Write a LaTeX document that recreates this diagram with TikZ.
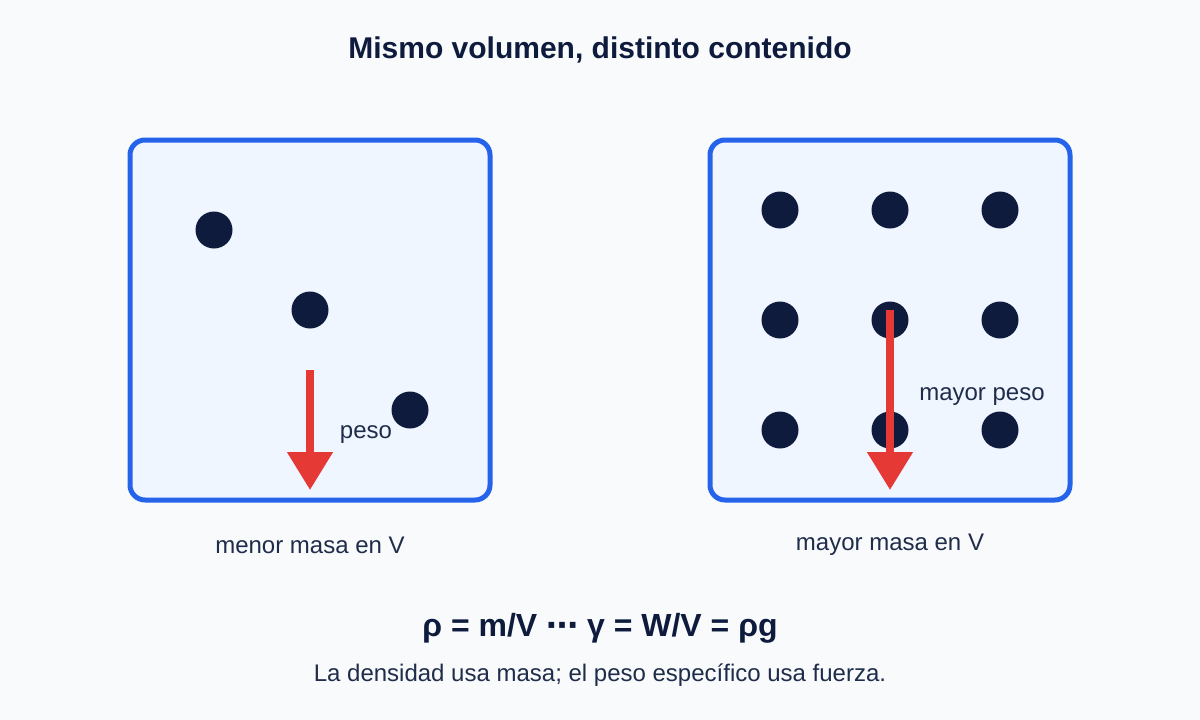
\documentclass[tikz,border=0pt]{standalone}
\usepackage{fontspec}
\setmainfont{Liberation Sans}
\newfontfamily\symfont{DejaVu Sans}
\usetikzlibrary{arrows.meta}
\definecolor{ink}{HTML}{0F1B3D}
\definecolor{boxblue}{HTML}{2563EB}
\definecolor{boxfill}{HTML}{EFF6FF}
\definecolor{arrred}{HTML}{E53935}
\definecolor{bg}{HTML}{F8FAFC}
\definecolor{txt}{HTML}{1F2D4A}
\tikzset{vol/.style={draw=boxblue, line width=5pt, fill=boxfill, rounded corners=15pt},
         dot/.style={circle, fill=ink, minimum size=37pt, inner sep=0pt},
         weight/.style={draw=arrred, line width=8pt, -{Triangle[width=44pt,length=38pt]}},
         lbl/.style={text=txt, font=\fontsize{24}{28}\selectfont}}
\begin{document}
\begin{tikzpicture}[x=1pt,y=-1pt]
  \fill[bg] (0,0) rectangle (1200,720);
  \node[text=ink, font=\fontsize{30}{34}\selectfont\bfseries] (title) at (600,50) {Mismo volumen, distinto contenido};

  % left volume
  \draw[vol] (130,140) rectangle (490,500);
  \node[dot] (a1) at (214,230) {};
  \node[dot] (a2) at (310,310) {};
  \node[dot] (a3) at (410,410) {};
  \coordinate (ls) at (310,370);
  \coordinate (le) at (310,490);
  \draw[weight] (ls) -- (le);
  \node[lbl] (lw) at (366,435) {peso};
  \node[lbl] (lcap) at (310,545) {menor masa en V};

  % right volume
  \draw[vol] (710,140) rectangle (1070,500);
  \foreach \i/\x in {1/780,2/890,3/1000}
    \foreach \j/\y in {1/210,2/320,3/430}
      \node[dot] (b\i\j) at (\x,\y) {};
  \coordinate (rs) at (890,310);
  \coordinate (re) at (890,490);
  \draw[weight] (rs) -- (re);
  \node[lbl] (rw) at (982,397) {mayor peso};
  \node[lbl] (rcap) at (890,545) {mayor masa en V};

  \node[text=ink, font=\fontsize{32}{36}\selectfont\bfseries] (eq) at (600,628) {ρ = m/V {\symfont ⋯} γ = W/V = ρg};
  \node[lbl] (note) at (600,675) {La densidad usa masa; el peso específico usa fuerza.};
\end{tikzpicture}
\end{document}
